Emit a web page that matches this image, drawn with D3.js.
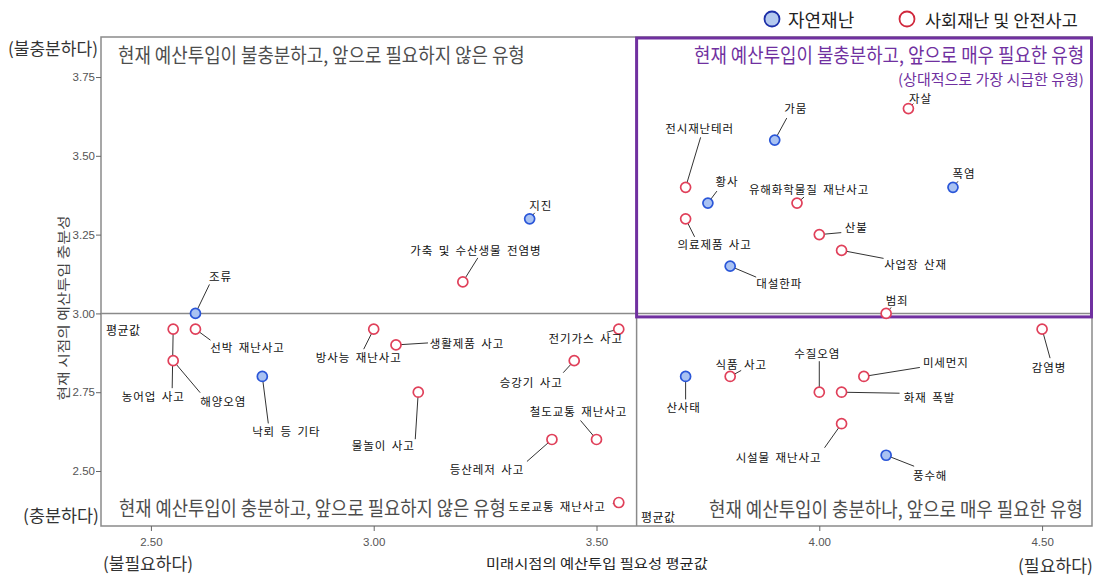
<!DOCTYPE html>
<html><head><meta charset="utf-8">
<script src="https://cdn.jsdelivr.net/npm/d3@7/dist/d3.min.js"></script>
<style>
html,body{margin:0;padding:0;background:#fff;}
svg{display:block;font-family:"Noto Sans CJK KR","Noto Sans",sans-serif;}
</style></head>
<body><svg id="chart" width="1097" height="576"></svg>
<script>
// ---- data ----
const naturalNames = ["조류","지진","낙뢰 등 기타","가뭄","황사","폭염","대설한파","산사태","풍수해"];
const naturalX     = [2.60, 3.35, 2.75, 3.90, 3.75, 4.30, 3.80, 3.70, 4.15];
const naturalY     = [3.00, 3.30, 2.80, 3.55, 3.35, 3.40, 3.15, 2.80, 2.55];

const socialNames = ["가축 및 수산생물 전염병","선박 재난사고","농어업 사고","해양오염","방사능 재난사고","생활제품 사고",
  "물놀이 사고","전기가스 사고","승강기 사고","철도교통 재난사고","등산레저 사고","도로교통 재난사고",
  "전시재난테러","자살","유해화학물질 재난사고","의료제품 사고","산불","사업장 산재","범죄","감염병",
  "식품 사고","수질오염","화재 폭발","미세먼지","시설물 재난사고"];
const socialX = [3.20,2.60,2.55,2.55,3.00,3.05,3.10,3.55,3.45,3.50,3.40,3.55,3.70,4.20,3.95,3.70,4.00,4.05,4.15,4.50,3.80,4.00,4.05,4.10,4.05];
const socialY = [3.10,2.95,2.95,2.85,2.95,2.90,2.75,2.95,2.85,2.60,2.60,2.40,3.40,3.65,3.35,3.30,3.25,3.20,3.00,2.95,2.80,2.75,2.75,2.80,2.65];

const xTicks = [2.5, 3.0, 3.5, 4.0, 4.5];
const yTicks = [2.5, 2.75, 3.0, 3.25, 3.5, 3.75];
const meanX = 3.59, meanY = 3.00;

// ---- label layout (pixel offsets from point: label dx,dy ; leader end lx,ly ; anchor) ----
const labelLayout = {
  "조류":[25,-37,14,-29],"지진":[11,-14,5,-6],"낙뢰 등 기타":[24,55,6,47],"가뭄":[21,-32,12,-22],
  "황사":[19,-22,9,-12],"폭염":[11,-14,5,-6],"대설한파":[49,17,26,11],"산사태":[-2,31,0,23],"풍수해":[44,20,28,11],
  "가축 및 수산생물 전염병":[13,-32,15,-24],"선박 재난사고":[52,18,15,11],"농어업 사고":[-20,67,-1,59],
  "해양오염":[50,40,27,32],"방사능 재난사고":[-15,28,-10,20],"생활제품 사고":[71,-2,32,-2],
  "물놀이 사고":[-35,53,-3,47],"전기가스 사고":[-33,9,-12,3],"승강기 사고":[-43,21,-11,12],
  "철도교통 재난사고":[-18,-28,-16,-19],"등산레저 사고":[-65,30,-25,22],"도로교통 재난사고":[-13,3,-6,1,"end"],
  "전시재난테러":[14,-59,15,-50],"자살":[12,-11,5,-5],"유해화학물질 재난사고":[12,-14,7,-6],
  "의료제품 사고":[29,25,9,18],"산불":[37,-8,22,-2],"사업장 산재":[74,14,42,8],"범죄":[11,-13,5,-6],
  "감염병":[7,38,8,29],"식품 사고":[11,-12,11,-6],"수질오염":[-2,-39,0,-31],"화재 폭발":[88,5,58,1],
  "미세먼지":[82,-14,56,-9],"시설물 재난사고":[-63,33,-17,24]
};

const svg = d3.select("#chart");
const L = 101, R = 1092, T = 37, B = 526;
const x = d3.scaleLinear().domain([2.388, 4.612]).range([L, R]);
const y = d3.scaleLinear().domain([2.3255, 3.877]).range([B, T]);

// frame
svg.append("rect").attr("x", L).attr("y", T).attr("width", R - L).attr("height", B - T)
  .attr("fill", "none").attr("stroke", "#8a8a8a").attr("stroke-width", 1.5);

// mean lines
svg.append("line").attr("x1", L).attr("x2", R).attr("y1", y(meanY)).attr("y2", y(meanY))
  .attr("stroke", "#8a8a8a").attr("stroke-width", 1.5);
svg.append("line").attr("x1", x(meanX)).attr("x2", x(meanX)).attr("y1", T).attr("y2", B)
  .attr("stroke", "#8a8a8a").attr("stroke-width", 1.5);

// axes
const xAxis = d3.axisBottom(x).tickValues(xTicks).tickFormat(d3.format(".2f")).tickSize(5).tickSizeOuter(0);
const gx = svg.append("g").attr("transform", `translate(0,${B})`).call(xAxis);
gx.select(".domain").remove();
gx.selectAll("line").attr("stroke", "#666");
gx.selectAll("text").attr("fill", "#555").attr("font-family", "Liberation Sans, Arial, sans-serif")
  .attr("font-size", 11.5).attr("dy", "1.05em");

const yAxis = d3.axisLeft(y).tickValues(yTicks).tickFormat(d3.format(".2f")).tickSize(5).tickSizeOuter(0);
const gy = svg.append("g").attr("transform", `translate(${L},0)`).call(yAxis);
gy.select(".domain").remove();
gy.selectAll("line").attr("stroke", "#666");
gy.selectAll("text").attr("fill", "#555").attr("font-family", "Liberation Sans, Arial, sans-serif")
  .attr("font-size", 11.5).attr("x", -6);

// purple highlight box
svg.append("rect").attr("x", x(meanX)).attr("y", T + 1).attr("width", R - 0.5 - x(meanX))
  .attr("height", y(meanY) + 3.5 - (T + 1))
  .attr("fill", "none").attr("stroke", "#7030a0").attr("stroke-width", 3);

// horizontally-compressed text (scale transform so its box matches the target width)
function qtext(txt, x0, len, cy, size, color, rot) {
  const t = svg.append("text").attr("x", 0).attr("y", 0).attr("dominant-baseline", "central")
    .attr("font-size", size).attr("fill", color).text(txt);
  const w = t.node().getComputedTextLength();
  const s = len / w;
  if (rot) {
    t.attr("text-anchor", "middle").attr("transform", `translate(${x0},${cy}) rotate(-90) scale(${s},1)`);
  } else {
    t.attr("transform", `translate(${x0},${cy}) scale(${s},1)`);
  }
  return t;
}
qtext("현재 예산투입이 불충분하고, 앞으로 필요하지 않은 유형", 118, 407, 54, 20, "#4d4d4d");
qtext("현재 예산투입이 불충분하고, 앞으로 매우 필요한 유형", 694, 390, 54, 20, "#7030a0");
qtext("(상대적으로 가장 시급한 유형)", 898, 186, 78.5, 14.5, "#7030a0");
qtext("현재 예산투입이 충분하고, 앞으로 필요하지 않은 유형", 119, 387, 507, 20, "#4d4d4d");
qtext("현재 예산투입이 충분하나, 앞으로 매우 필요한 유형", 709, 374, 508, 20, "#4d4d4d");

// axis end labels
qtext("(불충분하다)", 8, 90, 48, 17, "#333");
qtext("(충분하다)", 23, 76, 515, 17, "#333");
qtext("(불필요하다)", 103, 90, 563, 17, "#333");
qtext("(필요하다)", 1018, 75, 565, 17, "#333");

// axis titles
qtext("미래시점의 예산투입 필요성 평균값", 486, 222, 563, 13, "#222");
qtext("현재 시점의 예산투입 충분성", 62, 185, 308, 13, "#444", true);

// mean labels
svg.append("text").attr("x", 106).attr("y", 329).attr("dominant-baseline", "central")
  .attr("font-size", 12).attr("fill", "#111").attr("letter-spacing", 0.5).text("평균값");
svg.append("text").attr("x", 641).attr("y", 516).attr("dominant-baseline", "central")
  .attr("font-size", 12).attr("fill", "#111").attr("letter-spacing", 0.5).text("평균값");

// build point records
const pts = [];
naturalNames.forEach((n, i) => pts.push({name: n, x: naturalX[i], y: naturalY[i], type: "nat"}));
socialNames.forEach((n, i) => pts.push({name: n, x: socialX[i], y: socialY[i], type: "soc"}));

// leaders
svg.append("g").selectAll("line").data(pts).join("line")
  .attr("x1", d => x(d.x)).attr("y1", d => y(d.y))
  .attr("x2", d => x(d.x) + labelLayout[d.name][2]).attr("y2", d => y(d.y) + labelLayout[d.name][3])
  .attr("stroke", "#333").attr("stroke-width", 1);

// points
svg.append("g").selectAll("circle").data(pts).join("circle")
  .attr("cx", d => x(d.x)).attr("cy", d => y(d.y)).attr("r", 5)
  .attr("fill", d => d.type === "nat" ? "#a9c2f2" : "#fff")
  .attr("stroke", d => d.type === "nat" ? "#2a56d8" : "#e0405a").attr("stroke-width", 1.7);

// labels
svg.append("g").selectAll("text").data(pts).join("text")
  .attr("x", d => x(d.x) + labelLayout[d.name][0]).attr("y", d => y(d.y) + labelLayout[d.name][1])
  .attr("text-anchor", d => labelLayout[d.name][4] || "middle").attr("dominant-baseline", "central")
  .attr("font-size", 11.5).attr("fill", "#111").attr("letter-spacing", 0.9).attr("word-spacing", 2)
  .text(d => d.name);

// legend
svg.append("circle").attr("cx", 772).attr("cy", 19).attr("r", 7.5).attr("fill", "#b4c9ee")
  .attr("stroke", "#1c2fa8").attr("stroke-width", 1.8);
svg.append("text").attr("x", 788).attr("y", 19).attr("dominant-baseline", "central")
  .attr("font-size", 18).attr("fill", "#222").text("자연재난");
svg.append("circle").attr("cx", 907).attr("cy", 19).attr("r", 7.5).attr("fill", "#fff")
  .attr("stroke", "#d0283c").attr("stroke-width", 1.8);
svg.append("text").attr("x", 925).attr("y", 19).attr("dominant-baseline", "central")
  .attr("font-size", 17.5).attr("fill", "#222").text("사회재난 및 안전사고");
</script></body></html>
